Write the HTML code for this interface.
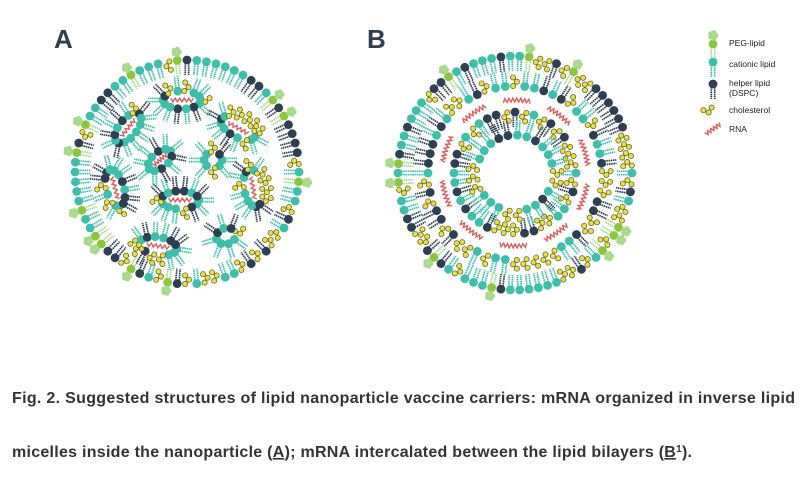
<!DOCTYPE html>
<html><head><meta charset="utf-8">
<style>
html,body{margin:0;padding:0;background:#fff;}
body{width:800px;height:477px;overflow:hidden;position:relative;font-family:"Liberation Sans",sans-serif;}
svg{position:absolute;left:0;top:0;}
</style></head>
<body>
<svg id="s" width="800" height="477" viewBox="0 0 800 477" xmlns="http://www.w3.org/2000/svg">
<g id="g"></g>
<text x="54" y="48" font-family="Liberation Sans, sans-serif" font-weight="bold" font-size="26" fill="#2e3f52">A</text>
<text x="367" y="48" font-family="Liberation Sans, sans-serif" font-weight="bold" font-size="26" fill="#2e3f52">B</text>
<g font-family="Liberation Sans, sans-serif" font-size="8.5" fill="#222">
<text x="729" y="46">PEG-lipid</text>
<text x="729" y="67">cationic lipid</text>
<text x="729" y="86">helper lipid</text>
<text x="729" y="96">(DSPC)</text>
<text x="729" y="113">cholesterol</text>
<text x="729" y="132">RNA</text>
</g>
<g font-family="Liberation Sans, sans-serif" font-weight="bold" font-size="16" fill="#333">
<text x="12" y="403" textLength="783" lengthAdjust="spacing">Fig. 2.  Suggested structures of lipid nanoparticle vaccine carriers: mRNA organized in inverse lipid</text>
<text x="12" y="457" textLength="680" lengthAdjust="spacing">micelles inside the nanoparticle (<tspan text-decoration="underline">A</tspan>); mRNA intercalated between the lipid bilayers (<tspan text-decoration="underline">B</tspan><tspan font-size="10" dy="-5">1</tspan><tspan dy="5">).</tspan></text>
</g>
</svg>
<script>
var g=document.getElementById('g');var out='';
var seed=7;function rnd(){seed=(seed*16807)%2147483647;return seed/2147483647;}
var TEAL='#3fbfa9',DARK='#2e3f52',GREEN='#8cc63f',LG='#a9d98c',YEL='#e6e043',RED='#e05c5c';
function lipid(x,y,dx,dy,t){
 var px=-dy,py=dx,s='';
 if(t=='c'){
  for(var i=0;i<3;i++){var o=(i%2?1.9:-1.9);var cx=x+dx*(i*4.3)+px*o,cy=y+dy*(i*4.3)+py*o;
   s+='<circle cx="'+cx.toFixed(1)+'" cy="'+cy.toFixed(1)+'" r="2.6" fill="'+YEL+'" stroke="#5a5a2a" stroke-width="0.7"/>';}
  return s;}
 var hc=t=='t'?TEAL:t=='d'?DARK:GREEN, tc=t=='t'?TEAL:t=='d'?DARK:LG;
 for(var k=-1;k<=1;k+=2){var ox=px*1.7*k,oy=py*1.7*k;
  s+='<line x1="'+(x+dx*3+ox).toFixed(1)+'" y1="'+(y+dy*3+oy).toFixed(1)+'" x2="'+(x+dx*15+ox).toFixed(1)+'" y2="'+(y+dy*15+oy).toFixed(1)+'" stroke="'+tc+'" stroke-width="1.7" stroke-dasharray="1.6 0.6"/>';}
 s+='<circle cx="'+x.toFixed(1)+'" cy="'+y.toFixed(1)+'" r="4.4" fill="'+hc+'"/>';
 if(t=='p'){for(var j=0;j<5;j++){var a=j*1.26;var fx=x-dx*8.5+Math.cos(a)*2.8,fy=y-dy*8.5+Math.sin(a)*2.8;
  s+='<circle cx="'+fx.toFixed(1)+'" cy="'+fy.toFixed(1)+'" r="2.5" fill="'+LG+'"/>';}}
 return s;}
function pick(pp){var r=rnd();var acc=0;for(var k in pp){acc+=pp[k];if(r<acc)return k;}return 't';}
function ring(cx,cy,r,n,inward,pp){
 for(var i=0;i<n;i++){var a=i/n*2*Math.PI;var ux=Math.cos(a),uy=Math.sin(a);
  var x=cx+ux*r,y=cy+uy*r;var d=inward?-1:1;
  out+=lipid(x,y,ux*d,uy*d,pick(pp));}}
function rnaArc(cx,cy,r,segs){
 for(var i=0;i<segs;i++){var a0=i/segs*2*Math.PI+0.15,a1=a0+2*Math.PI/segs*0.6;var pts=[];
  for(var k=0;k<=14;k++){var a=a0+(a1-a0)*k/14;var rr=r+(k%2?2:-2);pts.push((cx+Math.cos(a)*rr).toFixed(1)+','+(cy+Math.sin(a)*rr).toFixed(1));}
  out+='<polyline points="'+pts.join(' ')+'" fill="none" stroke="'+RED+'" stroke-width="1.4"/>';}}
function rnaLine(x,y,ang,L){var c=Math.cos(ang),s=Math.sin(ang);var pts=[];
 for(var k=0;k<=10;k++){var t=-L/2+L*k/10;var o=k%2?1.8:-1.8;pts.push((x+c*t-s*o).toFixed(1)+','+(y+s*t+c*o).toFixed(1));}
 out+='<polyline points="'+pts.join(' ')+'" fill="none" stroke="'+RED+'" stroke-width="1.4"/>';}
function micelle(x,y,ang,a,b,n,rna){
 var c=Math.cos(ang),s=Math.sin(ang);
 for(var i=0;i<n;i++){var t=i/n*2*Math.PI;var ex=Math.cos(t)*a,ey=Math.sin(t)*b;
  var nx=Math.cos(t)/a,ny=Math.sin(t)/b;var l=Math.hypot(nx,ny);nx/=l;ny/=l;
  var X=x+c*ex-s*ey,Y=y+s*ex+c*ey;var DX=c*nx-s*ny,DY=s*nx+c*ny;
  out+=lipid(X,Y,DX,DY,pick({t:0.55,d:0.25,c:0.2}));}
 if(rna)rnaLine(x,y,ang,a*1.2);}
// Diagram A
var ax=187,ay=172;
ring(ax,ay,112,72,true,{t:0.45,d:0.2,c:0.17,p:0.18});
micelle(182,100,0,19,9,14,1);
micelle(238,128,0.5,19,9,14,1);
micelle(128,128,-0.9,18,9,13,1);
micelle(213,160,0,9,8,8,0);
micelle(115,188,1.3,19,9,14,1);
micelle(253,188,1.4,19,9,14,1);
micelle(180,200,0,19,9,14,1);
micelle(158,246,0.15,19,9,14,1);
micelle(226,236,-0.3,10,8,8,0);
micelle(160,160,-0.7,14,8,10,1);
// Diagram B
var bx=515,by=173;
ring(bx,by,117,78,true,{t:0.32,d:0.3,c:0.28,p:0.1});
ring(bx,by,87,56,false,{t:0.35,d:0.35,c:0.3});
rnaArc(bx,by,73,10);
ring(bx,by,61,40,true,{t:0.35,d:0.35,c:0.3});
ring(bx,by,38,25,false,{t:0.35,d:0.4,c:0.25});
// legend
out+=lipid(713,44,0,1,'p');
out+=lipid(713,62,0,1,'t');
out+=lipid(713,84,0,1,'d');
out+=lipid(704,112,0.95,-0.3,'c');
rnaLine(713,129,-0.6,18);
g.innerHTML=out;
</script>
</body></html>
